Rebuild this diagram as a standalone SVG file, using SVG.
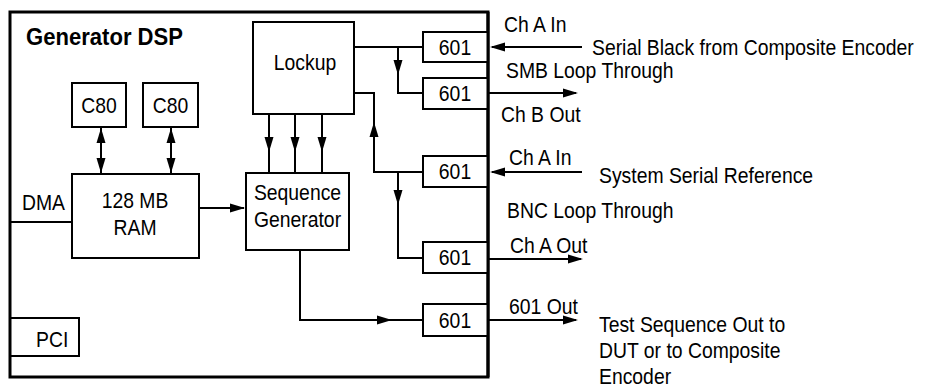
<svg xmlns="http://www.w3.org/2000/svg" xmlns:xlink="http://www.w3.org/1999/xlink" width="927" height="387" viewBox="0 0 927 387">
<style>
  .box{fill:#fff;stroke:#000;stroke-width:2}
  .outer{fill:none;stroke:#000;stroke-width:3}
  .ln{fill:none;stroke:#000;stroke-width:2}
  text{font-family:"Liberation Sans",Arial,sans-serif;font-size:22px;fill:#000}
  .c{text-anchor:middle}
  .title{font-weight:bold;font-size:24px}
</style>
<defs>
  <path id="ah" d="M0,0 L-15,-4.5 L-15,4.5 Z" fill="#000"/>
</defs>
<rect width="927" height="387" fill="#fff"/>

<g id="generator-dsp">
  <rect class="outer" x="10" y="12" width="478" height="365"/>
  <text class="title" transform="translate(26,45) scale(0.92,1)">Generator DSP</text>
</g>

<g id="connectors">
  <line class="ln" x1="101" y1="127" x2="101" y2="174"/>
  <use xlink:href="#ah" transform="translate(101,128) rotate(-90)"/>
  <use xlink:href="#ah" transform="translate(101,173) rotate(90)"/>
  <line class="ln" x1="171" y1="127" x2="171" y2="174"/>
  <use xlink:href="#ah" transform="translate(171,128) rotate(-90)"/>
  <use xlink:href="#ah" transform="translate(171,173) rotate(90)"/>
  <line class="ln" x1="10" y1="222" x2="72" y2="222"/>
  <line class="ln" x1="199" y1="208" x2="244" y2="208"/>
  <use xlink:href="#ah" transform="translate(245,208)"/>
  <line class="ln" x1="269" y1="114" x2="269" y2="173"/>
  <use xlink:href="#ah" transform="translate(269,152) rotate(90)"/>
  <line class="ln" x1="295" y1="114" x2="295" y2="173"/>
  <use xlink:href="#ah" transform="translate(295,152) rotate(90)"/>
  <line class="ln" x1="322" y1="114" x2="322" y2="173"/>
  <use xlink:href="#ah" transform="translate(322,152) rotate(90)"/>
  <polyline class="ln" points="354,47 423,47"/>
  <polyline class="ln" points="398,47 398,93 423,93"/>
  <use xlink:href="#ah" transform="translate(398,75) rotate(90)"/>
  <polyline class="ln" points="354,93 374,93 374,172 423,172"/>
  <use xlink:href="#ah" transform="translate(374,122) rotate(-90)"/>
  <polyline class="ln" points="398,172 398,258 423,258"/>
  <use xlink:href="#ah" transform="translate(398,205) rotate(90)"/>
  <polyline class="ln" points="300,250 300,320 423,320"/>
  <use xlink:href="#ah" transform="translate(392,320)"/>
  <line class="ln" x1="582" y1="47" x2="492" y2="47"/>
  <use xlink:href="#ah" transform="translate(490,47) rotate(180)"/>
  <line class="ln" x1="488" y1="93" x2="576" y2="93"/>
  <use xlink:href="#ah" transform="translate(578,93)"/>
  <line class="ln" x1="582" y1="172" x2="492" y2="172"/>
  <use xlink:href="#ah" transform="translate(490,172) rotate(180)"/>
  <line class="ln" x1="488" y1="259" x2="581" y2="259"/>
  <use xlink:href="#ah" transform="translate(583,259)"/>
  <line class="ln" x1="488" y1="320" x2="576" y2="320"/>
  <use xlink:href="#ah" transform="translate(578,320)"/>
</g>

<g id="c80-1">
  <rect class="box" x="72" y="83" width="54" height="44"/>
  <text class="c" transform="translate(99,113) scale(0.88,1)">C80</text>
</g>
<g id="c80-2">
  <rect class="box" x="143" y="83" width="55" height="44"/>
  <text class="c" transform="translate(170.5,113) scale(0.88,1)">C80</text>
</g>
<g id="ram">
  <rect class="box" x="72" y="174" width="127" height="84"/>
  <text class="c" transform="translate(135,208) scale(0.88,1)">128 MB</text>
  <text class="c" transform="translate(135,235) scale(0.88,1)">RAM</text>
</g>
<g id="dma">
  <text transform="translate(22,210) scale(0.88,1)">DMA</text>
</g>
<g id="pci">
  <path class="ln" d="M10,318 H79 V356 H10"/>
  <text transform="translate(36,347) scale(0.88,1)">PCI</text>
</g>
<g id="lockup">
  <rect class="box" x="253" y="22" width="101" height="92"/>
  <text class="c" transform="translate(305,70) scale(0.88,1)">Lockup</text>
</g>
<g id="sequence-generator">
  <rect class="box" x="246" y="173" width="103" height="77"/>
  <text class="c" transform="translate(297.5,200) scale(0.88,1)">Sequence</text>
  <text class="c" transform="translate(297.5,227) scale(0.88,1)">Generator</text>
</g>
<g id="s601-1">
  <rect class="box" x="423" y="32" width="65" height="30"/>
  <text class="c" transform="translate(455,55) scale(0.88,1)">601</text>
</g>
<g id="s601-2">
  <rect class="box" x="423" y="78" width="65" height="31"/>
  <text class="c" transform="translate(455,101) scale(0.88,1)">601</text>
</g>
<g id="s601-3">
  <rect class="box" x="423" y="156" width="65" height="31"/>
  <text class="c" transform="translate(455,179) scale(0.88,1)">601</text>
</g>
<g id="s601-4">
  <rect class="box" x="423" y="242" width="65" height="31"/>
  <text class="c" transform="translate(455,265) scale(0.88,1)">601</text>
</g>
<g id="s601-5">
  <rect class="box" x="423" y="304" width="65" height="32"/>
  <text class="c" transform="translate(455,328) scale(0.88,1)">601</text>
</g>
<line x1="488" y1="12" x2="488" y2="377" stroke="#000" stroke-width="3"/>

<g id="labels">
  <text transform="translate(504,32) scale(0.88,1)">Ch A In</text>
  <text transform="translate(592,55) scale(0.88,1)">Serial Black from Composite Encoder</text>
  <text transform="translate(506,78) scale(0.88,1)">SMB Loop Through</text>
  <text transform="translate(501,122) scale(0.88,1)">Ch B Out</text>
  <text transform="translate(509,165) scale(0.88,1)">Ch A In</text>
  <text transform="translate(599,183) scale(0.88,1)">System Serial Reference</text>
  <text transform="translate(507,218) scale(0.88,1)">BNC Loop Through</text>
  <text transform="translate(510,253) scale(0.88,1)">Ch A Out</text>
  <text transform="translate(509,314) scale(0.88,1)">601 Out</text>
  <text transform="translate(599,332) scale(0.88,1)">Test Sequence Out to</text>
  <text transform="translate(599,358) scale(0.88,1)">DUT or to Composite</text>
  <text transform="translate(599,384) scale(0.88,1)">Encoder</text>
</g>
</svg>
